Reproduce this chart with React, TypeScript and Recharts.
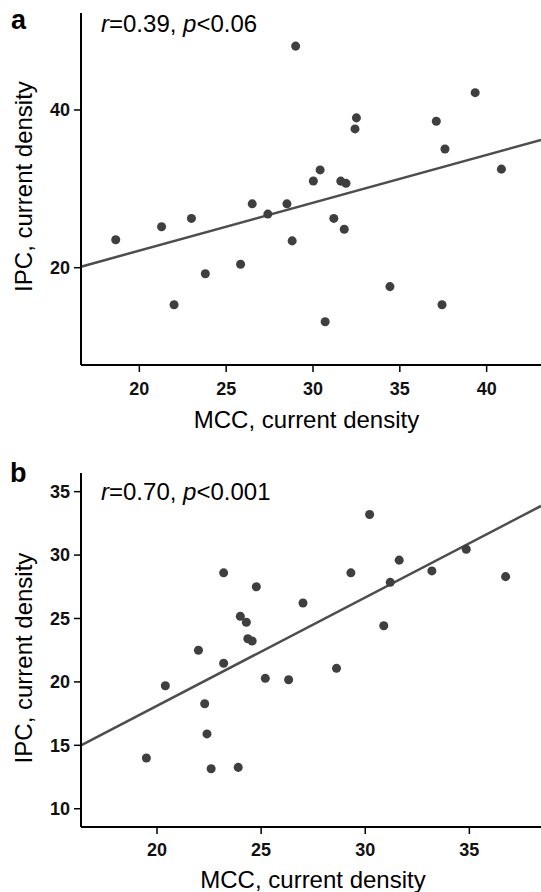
import React from 'react';
import { ScatterChart, Scatter, XAxis, YAxis, ZAxis, ReferenceLine, Label } from 'recharts';

const FONT = '"Liberation Sans", Arial, Helvetica, sans-serif';

// Panel a
const mccA = [29.0, 39.34, 32.5, 32.42, 37.1, 37.6, 40.85, 30.41, 30.02, 31.6, 31.9, 26.5, 28.5, 27.4, 23.0, 31.2, 21.28, 31.8, 18.64, 28.8, 25.83, 23.8, 34.43, 22.0, 37.43, 30.7];
const ipcA = [48.1, 42.2, 39.0, 37.6, 38.57, 35.05, 32.5, 32.4, 31.0, 30.98, 30.7, 28.1, 28.1, 26.8, 26.25, 26.25, 25.2, 24.87, 23.55, 23.4, 20.43, 19.24, 17.6, 15.3, 15.3, 13.14];
const xTicksA = [20, 25, 30, 35, 40];
const yTicksA = [20, 40];
const xDomainA = [16.64, 43.13];
const yDomainA = [7.66, 52.3];
const fitA = [
  { x: 16.64, y: 20.13 },
  { x: 43.13, y: 36.2 },
];

// Panel b
const mccB = [30.21, 34.85, 31.63, 23.2, 29.31, 33.2, 36.74, 31.2, 24.77, 27.01, 24.0, 24.29, 30.89, 24.36, 24.57, 21.99, 23.2, 28.62, 20.4, 25.2, 26.32, 22.29, 22.4, 19.49, 22.6, 23.9];
const ipcB = [33.2, 30.46, 29.6, 28.6, 28.6, 28.75, 28.3, 27.85, 27.5, 26.22, 25.17, 24.7, 24.43, 23.4, 23.22, 22.5, 21.47, 21.07, 19.7, 20.28, 20.17, 18.28, 15.9, 14.0, 13.15, 13.26];
const xTicksB = [20, 25, 30, 35];
const yTicksB = [10, 15, 20, 25, 30, 35];
const xDomainB = [16.35, 38.44];
const yDomainB = [8.56, 36.47];
const fitB = [
  { x: 16.35, y: 15.0 },
  { x: 38.44, y: 33.87 },
];

const dataA = mccA.map((x, i) => ({ x, y: ipcA[i] }));
const dataB = mccB.map((x, i) => ({ x, y: ipcB[i] }));

const tickStyle = { fontFamily: FONT, fontSize: 18, fontWeight: 'bold', fill: '#111' } as any;
const axisLine = { stroke: '#000', strokeWidth: 2 };
const tickLine = { stroke: '#000', strokeWidth: 1.5 };

const makeYLabel = (shift: number) => (props: any) => {
  const vb = props.viewBox || {};
  const cx = vb.x + 32;
  const cy = vb.y + vb.height / 2 + shift;
  return (
    <text
      x={cx}
      y={cy}
      transform={`rotate(-90, ${cx}, ${cy})`}
      textAnchor="middle"
      fontFamily={FONT}
      fontSize={24}
      fill="#000"
    >
      IPC, current density
    </text>
  );
};

const makeXLabel = (dx: number, baselineFromBottom: number) => (props: any) => {
  const vb = props.viewBox || {};
  const cx = vb.x + vb.width / 2 + dx;
  const cy = vb.y + vb.height - baselineFromBottom;
  return (
    <text x={cx} y={cy} textAnchor="middle" fontFamily={FONT} fontSize={24} fill="#000">
      MCC, current density
    </text>
  );
};

export default function App() {
  return (
    <div style={{ position: 'absolute', left: 0, top: 0, width: 541, height: 892, background: '#fff', overflow: 'hidden' }}>
      <div style={{ position: 'absolute', left: 0, top: 0 }}>
        <ScatterChart width={541} height={440} margin={{ top: 13, right: 0, bottom: 0, left: 0 }}>
          <XAxis
            type="number"
            dataKey="x"
            domain={xDomainA}
            ticks={xTicksA}
            allowDataOverflow
            height={75}
            tickSize={7}
            tickMargin={10}
            tick={tickStyle}
            axisLine={axisLine}
            tickLine={tickLine}
          >
            <Label content={makeXLabel(-4.5, 11.7)} />
          </XAxis>
          <YAxis
            type="number"
            dataKey="y"
            domain={yDomainA}
            ticks={yTicksA}
            allowDataOverflow
            width={81}
            tickSize={7}
            tickMargin={4}
            tick={tickStyle}
            axisLine={axisLine}
            tickLine={tickLine}
          >
            <Label content={makeYLabel(-2.5)} />
          </YAxis>
          <ZAxis range={[60, 60]} />
          <Scatter data={dataA} fill="#3f3f3f" isAnimationActive={false} />
          <ReferenceLine segment={fitA} stroke="#4d4d4d" strokeWidth={2.5} ifOverflow="visible" />
        </ScatterChart>
      </div>
      <div style={{ position: 'absolute', left: 0, top: 450 }}>
        <ScatterChart width={541} height={442} margin={{ top: 23, right: 0, bottom: 0, left: 0 }}>
          <XAxis
            type="number"
            dataKey="x"
            domain={xDomainB}
            ticks={xTicksB}
            allowDataOverflow
            height={65}
            tickSize={7}
            tickMargin={9.5}
            tick={tickStyle}
            axisLine={axisLine}
            tickLine={tickLine}
          >
            <Label content={makeXLabel(2, 4)} />
          </XAxis>
          <YAxis
            type="number"
            dataKey="y"
            domain={yDomainB}
            ticks={yTicksB}
            allowDataOverflow
            width={81}
            tickSize={7}
            tickMargin={4}
            tick={tickStyle}
            axisLine={axisLine}
            tickLine={tickLine}
          >
            <Label content={makeYLabel(8)} />
          </YAxis>
          <ZAxis range={[60, 60]} />
          <Scatter data={dataB} fill="#3f3f3f" isAnimationActive={false} />
          <ReferenceLine segment={fitB} stroke="#4d4d4d" strokeWidth={2.5} ifOverflow="visible" />
        </ScatterChart>
      </div>
      <svg
        width={541}
        height={892}
        style={{ position: 'absolute', left: 0, top: 0, pointerEvents: 'none' }}
        fontFamily={FONT}
      >
        <text x={11} y={29} fontSize={27} fontWeight="bold" fill="#000">a</text>
        <text x={10} y={481.7} fontSize={27} fontWeight="bold" fill="#000">b</text>
        <text x={101} y={31.7} fontSize={24} fill="#000">
          <tspan fontStyle="italic">r</tspan>=0.39, <tspan fontStyle="italic">p</tspan>&lt;0.06
        </text>
        <text x={101} y={500} fontSize={24} fill="#000">
          <tspan fontStyle="italic">r</tspan>=0.70, <tspan fontStyle="italic">p</tspan>&lt;0.001
        </text>
      </svg>
    </div>
  );
}
